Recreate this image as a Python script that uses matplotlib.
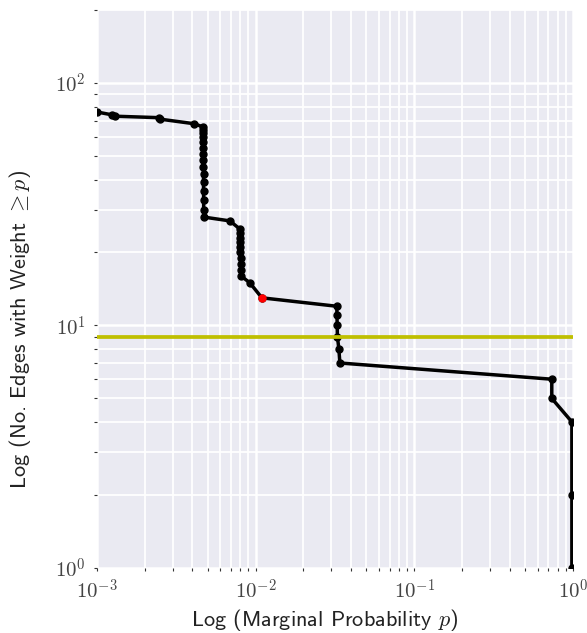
import numpy as np
import matplotlib
matplotlib.use("Agg")
import matplotlib.pyplot as plt
from matplotlib.ticker import FuncFormatter

# marginal probability p and number of edges with weight >= p
probs = [0.00100, 0.00124, 0.00130, 0.00246, 0.00250, 0.00408, 0.00466,
         0.00467, 0.00467, 0.00468, 0.00468, 0.00468, 0.00469, 0.00469,
         0.00469, 0.00470, 0.00470, 0.00470, 0.00471, 0.00471, 0.00472,
         0.00689, 0.00796, 0.00798, 0.00800, 0.00801, 0.00802, 0.00803,
         0.00805, 0.00806, 0.00808, 0.00810, 0.0092, 0.01096,
         0.0325, 0.0326, 0.0327, 0.0328, 0.0335, 0.0340,
         0.736, 0.736, 0.985, 0.985, 0.985]
n_edges = [76, 74, 73, 72, 71, 68, 66,
           64, 62, 60, 57, 54, 51, 48,
           45, 42, 39, 36, 33, 30, 28,
           27, 25, 24, 23, 22, 21, 20,
           19, 18, 17, 16, 15, 13,
           12, 11, 10, 9, 8, 7,
           6, 5, 4, 2, 1]

highlight_p = 0.01096
highlight_n = 13
threshold = 9

plt.rcParams.update({
    "font.family": "cmss10",
    "mathtext.fontset": "cm",
    "axes.facecolor": "#EAEAF2",
    "axes.unicode_minus": False,
})


def pow10(v, pos):
    return r"$10^{%d}$" % int(round(np.log10(v)))


fig = plt.figure(figsize=(5.87, 6.33), dpi=100)
ax = fig.add_axes([0.165, 0.103, 0.811, 0.881])

ax.plot(probs, n_edges, color="black", lw=2.5, marker="o", ms=5, zorder=3)
ax.plot([highlight_p], [highlight_n], "o", color="red", ms=5, zorder=4)
ax.axhline(threshold, color="y", lw=2.7, zorder=5)

ax.set_xscale("log")
ax.set_yscale("log")
ax.set_xlim(1e-3, 1)
ax.set_ylim(1, 200)
ax.xaxis.set_major_formatter(FuncFormatter(pow10))
ax.yaxis.set_major_formatter(FuncFormatter(pow10))

ax.grid(True, which="major", color="white", lw=1.8, zorder=0)
ax.grid(True, which="minor", color="white", lw=1.3, zorder=0)
ax.set_axisbelow(True)
for s in ax.spines.values():
    s.set_visible(False)

ax.tick_params(which="both", direction="out", length=2, width=0.8,
               color="#333333", labelsize=15, labelcolor="#444444", pad=6)
ax.tick_params(which="minor", labelleft=False, labelbottom=False)

ax.set_xlabel(r"Log (Marginal Probability $p$)", fontsize=16, color="#222222")
ax.set_ylabel(r"Log (No. Edges with Weight $\geq p$)", fontsize=16, color="#222222")
ax.xaxis.set_label_coords(0.479, -0.070)
ax.yaxis.set_label_coords(-0.134, 0.4265)

fig.savefig("out.png", dpi=100)
